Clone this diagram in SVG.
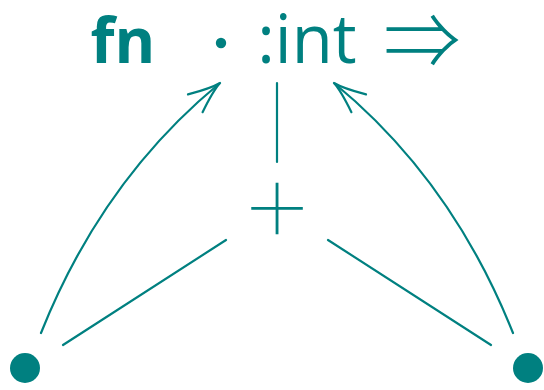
<svg xmlns="http://www.w3.org/2000/svg" width="544" height="390" viewBox="0 0 544 390">
<style>
.t{fill:#008080;}
.edge{fill:none;stroke:#008080;stroke-width:2.2;stroke-linecap:round;}
.node{fill:#008080;}
</style>
<defs>
<marker id="to" markerUnits="userSpaceOnUse" orient="auto" refX="0" refY="0" markerWidth="40" markerHeight="30" overflow="visible">
<path d="M -32,-11.5 Q -10,-1.5 0,0 Q -10,1.5 -32,11.5" fill="none" stroke="#008080" stroke-width="2.2" stroke-linecap="round"/>
</marker>
</defs>
<rect width="544" height="390" fill="#ffffff"/>
<g id="node-fn"><text class="t" x="123" y="63" text-anchor="middle" font-family="'Open Sans', sans-serif" font-weight="700" font-size="62">fn</text></g>
<g id="node-dot"><circle class="node" cx="221" cy="43" r="5.2"/></g>
<g id="node-int"><text class="t" x="307" y="63" text-anchor="middle" font-family="'Open Sans', sans-serif" font-size="67">:int</text></g>
<g id="node-arrow"><text class="t" x="422" y="69" text-anchor="middle" font-family="'Noto Sans CJK JP', sans-serif" font-weight="300" font-size="77">⇒</text></g>
<g id="node-plus"><text class="t" x="277" y="244" text-anchor="middle" font-family="Inter, sans-serif" font-weight="100" font-size="125">+</text></g>
<g id="node-left"><circle class="node" cx="25" cy="368" r="15"/></g>
<g id="node-right"><circle class="node" cx="528" cy="368" r="15"/></g>
<g id="connectors">
<path class="edge" d="M 41,333 Q 102,180 220,83" marker-end="url(#to)"/>
<path class="edge" d="M 513,333 Q 452,180 334,83" marker-end="url(#to)"/>
<path class="edge" d="M 277,83 L 277,162"/>
<path class="edge" d="M 63,345 L 226,240"/>
<path class="edge" d="M 491,345 L 328,240"/>
</g>
</svg>
